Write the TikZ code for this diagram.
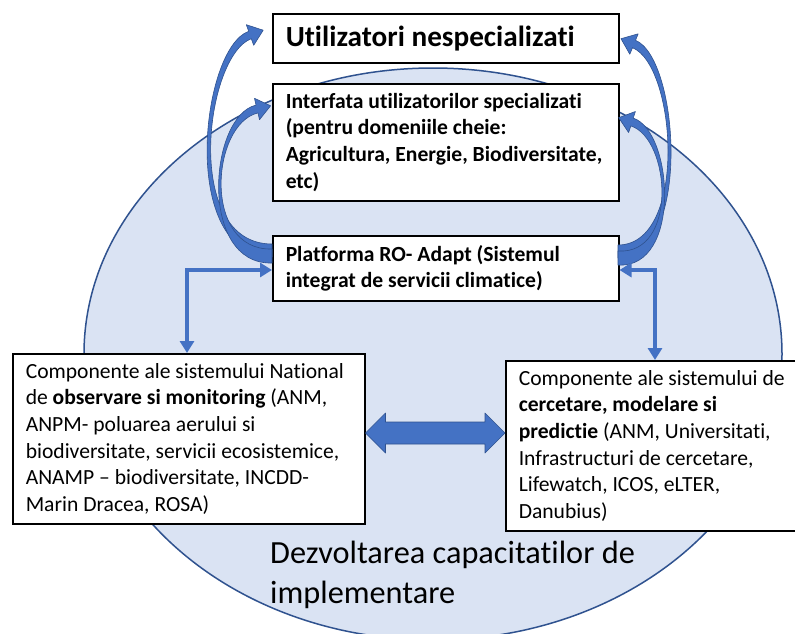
\documentclass[tikz,border=0pt]{standalone}
\usepackage{fontspec}
\setmainfont{Carlito}[Ligatures={NoCommon,NoContextual}]
\usetikzlibrary{arrows.meta,calc}
\definecolor{ellfill}{HTML}{DAE3F3}
\definecolor{elldraw}{HTML}{2F528F}
\definecolor{accblue}{HTML}{4472C4}
\definecolor{accdark}{HTML}{2F528F}
\begin{document}
\begin{tikzpicture}[x=1pt,y=-1pt,
  box/.style={draw=black, line width=1.5pt, fill=white, anchor=north west,
    inner xsep=13pt, inner ysep=0pt, align=flush left,
    font=\fontsize{21.6}{26.7}\selectfont},
  boldbox/.style={box, font=\bfseries\fontsize{21.6}{26.7}\selectfont},
  blockarrow/.style={fill=accblue, draw=accdark, line width=0.6pt, line join=round},
  elbow/.style={draw=accblue, line width=4pt,
    {Triangle[width=14pt,length=12pt]}-{Triangle[width=14pt,length=12pt]}}]
\useasboundingbox (0,0) rectangle (795,633);
\clip (0,0) rectangle (795,633);
\fill[white] (0,0) rectangle (795,633);

% background ellipse
\draw[fill=ellfill, draw=elldraw, line width=1.5pt] (433,354) ellipse [x radius=349pt, y radius=286pt];

% boxes
\node[box, text width=320pt, minimum height=49pt,
  font=\bfseries\fontsize{29.2}{34}\selectfont] (util) at (272,13) {Utilizatori nespecializati};
\node[boldbox, text width=320pt, minimum height=117pt] (intf) at (272,83)
  {Interfata utilizatorilor specializati\\(pentru domeniile cheie:\\Agricultura, Energie, Biodiversitate,\\etc)};
\node[boldbox, text width=320pt, minimum height=65pt] (plat) at (272,235)
  {Platforma RO- Adapt (Sistemul\\integrat de servicii climatice)};
\node[box, text width=326pt, minimum height=170pt] (lbox) at (12,353)
  {Componente ale sistemului National\\de \textbf{observare si monitoring} (ANM,\\ANPM- poluarea aerului si\\biodiversitate, servicii ecosistemice,\\ANAMP – biodiversitate, INCDD-\\Marin Dracea, ROSA)};
\node[box, text width=280pt, minimum height=170pt] (rbox) at (505,360)
  {Componente ale sistemului de\\\textbf{cercetare, modelare si}\\\textbf{predictie} (ANM, Universitati,\\Infrastructuri de cercetare,\\Lifewatch, ICOS, eLTER,\\Danubius)};

% curved block arrows, left
\fill[blockarrow] (272,257) .. controls (178,257) and (200.7,48.3) .. (248.7,31.3)
  -- (246.3,24.7) -- (263.2,30.2) -- (253.7,45.3) -- (251.3,38.7)
  .. controls (205.3,55.7) and (182,244) .. (272,244) -- cycle;
\fill[blockarrow] (272,263) .. controls (198,265) and (209,116.1) .. (256,105.1)
  -- (254.5,98.3) -- (270.6,105.8) -- (259.5,119.7) -- (258,112.9)
  .. controls (211,123.9) and (202,251) .. (272,249) -- cycle;
% curved block arrows, right
\fill[blockarrow] (618,258) .. controls (692,258) and (679.5,58.3) .. (635.5,40.3)
  -- (638.2,33.8) -- (621,38.7) -- (629.8,54.2) -- (632.5,47.7)
  .. controls (676.5,65.7) and (688,245) .. (618,245) -- cycle;
\fill[blockarrow] (618,265) .. controls (682,269) and (673.2,131.1) .. (633.2,118.1)
  -- (635.4,111.5) -- (618.7,117.7) -- (628.6,132.5) -- (630.8,125.9)
  .. controls (670.8,138.9) and (678,255) .. (618,251) -- cycle;

% elbow connectors
\coordinate (eL) at (187,270);
\coordinate (eR) at (655,270);
\draw[elbow] (eL |- lbox.north) |- (plat.west |- eL);
\draw[elbow] (plat.east |- eR) -| (eR |- rbox.north);

% double block arrow
\coordinate (dY) at (0,433);
\fill[blockarrow] (lbox.east |- dY) -- ++(20,-20) -- ++(0,9)
  -- ($(rbox.west |- dY)+(-20,-11)$) -- ++(0,-9) -- (rbox.west |- dY)
  -- ++(-20,20) -- ++(0,-9) -- ($(lbox.east |- dY)+(20,11)$) -- ++(0,9) -- cycle;

% bottom label
\node[anchor=west, inner sep=0pt, align=flush left, font=\fontsize{32.3}{40}\selectfont] (cap) at (270,575)
  {Dezvoltarea capacitatilor de\\implementare};
\end{tikzpicture}
\end{document}
